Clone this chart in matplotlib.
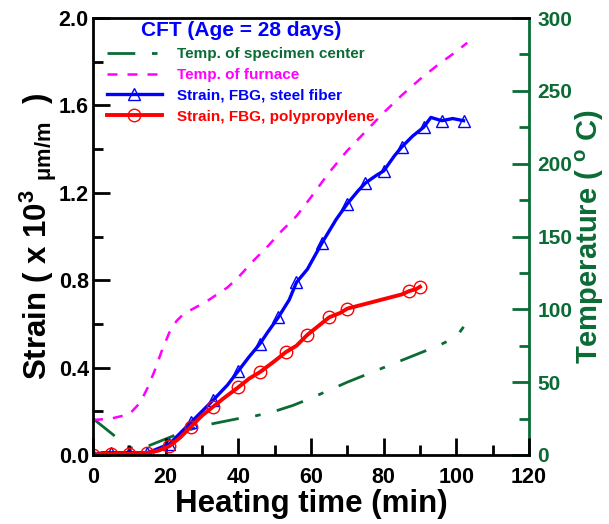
import matplotlib
matplotlib.use('Agg')
import matplotlib.pyplot as plt
from matplotlib.ticker import MultipleLocator

plt.rcParams['font.family'] = ['Liberation Sans', 'DejaVu Sans']
plt.rcParams['font.weight'] = 'bold'
plt.rcParams['mathtext.fontset'] = 'custom'
plt.rcParams['mathtext.rm'] = 'Liberation Sans'
plt.rcParams['mathtext.bf'] = 'Liberation Sans:bold'
plt.rcParams['mathtext.it'] = 'Liberation Sans:italic'

GREEN = '#0b6b35'

# temperatura del centro de la probeta (C)
t_center = [0, 3, 6, 9, 12, 15, 18, 21, 25, 30, 35, 40, 45, 50, 55, 60, 65, 70,
            75, 80, 85, 90, 95, 100, 102]
T_center = [25, 19, 13, 6, 4, 6, 9, 12, 16, 20, 22.5, 25, 27, 30, 34, 39, 44.5, 50,
            55, 60, 65, 70, 75, 81, 88]

# temperatura del horno (C)
t_furnace = [0, 5, 10, 13, 15, 17, 19, 21, 23, 25, 28, 31, 34, 37, 40, 44, 48, 52,
             56, 60, 65, 70, 75, 80, 85, 90, 95, 100, 103]
T_furnace = [24, 25, 28, 36, 46, 58, 72, 84, 92, 97, 101, 105, 110, 115, 122, 133,
             143, 154, 164, 177, 194, 209, 222, 235, 247, 258, 268, 277, 283]

# deformacion, fibra de acero (x10^3 um/m)
t_steel = [0, 2.5, 5, 7.5, 10, 12.5, 15, 18, 21, 24, 27, 30, 33, 37, 40, 43, 46, 48,
           51, 54, 56, 59, 63, 67, 70, 73, 75, 78, 80, 83, 85, 88, 91, 93, 96, 99, 102]
s_steel = [0.0, 0.01, 0.01, 0.01, 0.01, 0.01, 0.01, 0.03, 0.05, 0.10, 0.15, 0.20,
           0.25, 0.32, 0.385, 0.45, 0.51, 0.56, 0.63, 0.71, 0.79, 0.85, 0.97, 1.08,
           1.15, 1.21, 1.245, 1.28, 1.30, 1.37, 1.41, 1.46, 1.50, 1.545, 1.53, 1.54, 1.53]

# deformacion, polipropileno (x10^3 um/m)
t_pp = [0, 2.5, 5, 7.5, 10, 12.5, 15, 18, 21, 24, 27, 30, 33, 36, 40, 43, 46, 50,
        53, 56, 59, 62, 65, 68, 70, 85, 87, 89, 90]
s_pp = [0.0, 0.005, 0.005, 0.005, 0.005, 0.008, 0.01, 0.02, 0.04, 0.08, 0.13, 0.18,
        0.22, 0.26, 0.31, 0.35, 0.38, 0.43, 0.47, 0.50, 0.55, 0.59, 0.63, 0.65, 0.67,
        0.735, 0.75, 0.76, 0.77]

fig = plt.figure(figsize=(6.09, 5.24), dpi=100)
ax = fig.add_axes([0.1527, 0.1317, 0.7159, 0.8339])
ax2 = ax.twinx()

l1, = ax2.plot(t_center, T_center, color=GREEN, lw=2, dashes=(10, 6, 2, 6),
               label='Temp. of specimen center')
l2, = ax2.plot(t_furnace, T_furnace, color='magenta', lw=1.8, dashes=(4, 4),
               label='Temp. of furnace')
l3, = ax.plot(t_steel, s_steel, color='blue', lw=2.4, marker='^', ms=8, mfc='none',
              mec='blue', mew=1, markevery=2, label='Strain, FBG, steel fiber')
l4, = ax.plot(t_pp, s_pp, color='red', lw=2.8, marker='o', ms=9, mfc='none',
              mec='red', mew=1, markevery=2, label='Strain, FBG, polypropylene')

ax.set_xlim(0, 120)
ax.set_ylim(0, 2.0)
ax2.set_ylim(0, 300)
ax.set_zorder(ax2.get_zorder() + 1)
ax.patch.set_visible(False)

ax.xaxis.set_major_locator(MultipleLocator(20))
ax.xaxis.set_minor_locator(MultipleLocator(10))
ax.yaxis.set_major_locator(MultipleLocator(0.4))
ax.yaxis.set_minor_locator(MultipleLocator(0.2))
ax2.yaxis.set_major_locator(MultipleLocator(50))
ax2.yaxis.set_minor_locator(MultipleLocator(25))
ax.yaxis.set_major_formatter(plt.FormatStrFormatter('%.1f'))

ax.tick_params(axis='both', which='major', direction='in', length=12, width=2,
               labelsize=15.5, pad=3)
ax.tick_params(axis='both', which='minor', direction='in', length=7, width=2)
ax.tick_params(axis='x', pad=8.5)
ax2.tick_params(axis='y', which='major', direction='in', length=12, width=2,
                labelsize=15, colors=GREEN, pad=6)
ax2.tick_params(axis='y', which='minor', direction='in', length=7, width=2,
                colors=GREEN)

for s in ['left', 'bottom', 'top']:
    ax.spines[s].set_linewidth(2)
ax.spines['right'].set_visible(False)
ax2.spines['right'].set_color(GREEN)
ax2.spines['right'].set_linewidth(2)
for s in ['left', 'bottom', 'top']:
    ax2.spines[s].set_visible(False)

ax.set_xlabel('Heating time (min)', fontsize=22.5, fontweight='bold', labelpad=1)
ax.set_ylabel(r'Strain ( x 10$^\mathbf{3}$ $_\mathrm{\mu m/m}$  )', fontsize=22.5,
              fontweight='bold', labelpad=0)
ax2.set_ylabel(r'Temperature ( $^\mathbf{o}$ C)', fontsize=21, fontweight='bold',
               color=GREEN, labelpad=1)

leg = ax.legend(handles=[l1, l2, l3, l4], loc='upper left', frameon=False,
                title='CFT (Age = 28 days)', numpoints=1, handlelength=3.6,
                fontsize=11, borderaxespad=0.0, labelspacing=0.45,
                handletextpad=1.0, borderpad=0.2, bbox_to_anchor=(0.025, 1.0))
leg.get_title().set_color('blue')
leg.get_title().set_fontsize(15)
leg.get_title().set_fontweight('bold')
leg._legend_box.sep = 5
for txt, c in zip(leg.get_texts(), [GREEN, 'magenta', 'blue', 'red']):
    txt.set_color(c)
    txt.set_fontweight('bold')

fig.savefig('out.png', dpi=100)
plt.close(fig)
